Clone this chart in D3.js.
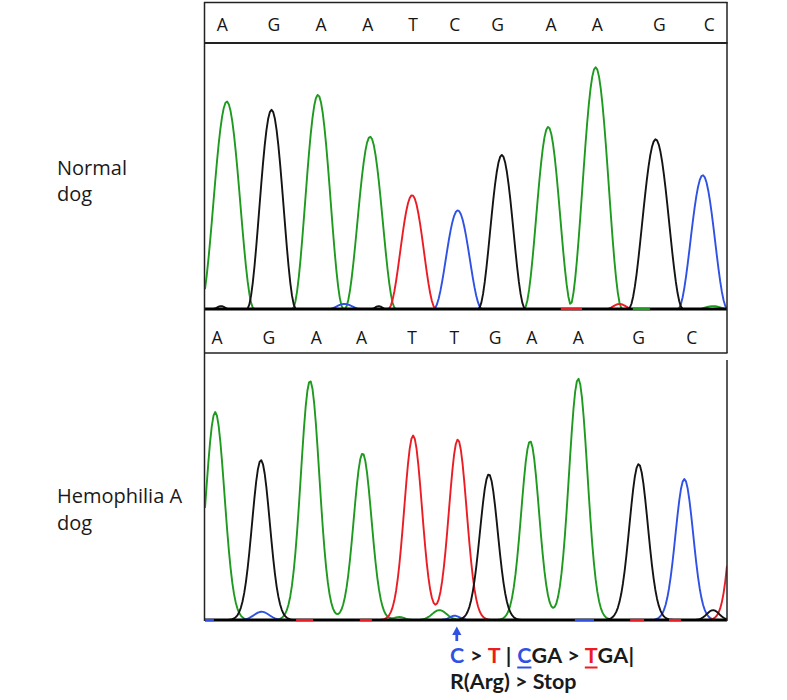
<!DOCTYPE html>
<html>
<head>
<meta charset="utf-8">
<script src="https://cdn.jsdelivr.net/npm/d3@7"></script>
<style>
  html, body { margin: 0; padding: 0; background: #fff; }
  svg { display: block; }
</style>
</head>
<body>
<svg id="chart" width="787" height="700"></svg>
<script>
// ---------------- DATA ----------------
// scan axis (trace sample index) and signal (relative fluorescence, 0-1000)
const scanDomain = [0, 153];
const signalDomain = [0, 1000];
const baseOrder = ["A", "C", "T", "G"];

// Normal dog
const topCalls = ["A","G","A","A","T","C","G","A","A","G","C"];
const topCallScan = [5.1, 20.2, 34.0, 47.7, 61.0, 73.2, 85.8, 101.4, 115.0, 133.2, 147.8];
const topPeakBase = ["A","G","A","A","T","C","G","A","A","G","C"];
const topPeakScan = [6.4, 19.5, 33.1, 48.4, 60.7, 74.1, 87.0, 100.6, 114.5, 132.1, 145.9];
const topPeakSignal = [780, 749, 805, 648, 428, 371, 579, 685, 909, 638, 503];
const topPeakWidth = [8.0, 7.2, 7.5, 7.5, 7.0, 7.1, 6.9, 7.1, 7.8, 8.0, 7.3];
const topMinorBase = ["G","C","G","T","A"];
const topMinorScan = [4.7, 40.9, 50.9, 121.5, 148.9];
const topMinorSignal = [11, 19, 11, 19, 11];
const topMinorWidth = [2.3, 4.7, 2.1, 3.8, 4.4];
const topBaselineRuns = [[104.3, 110.5, "T"], [125.4, 130.4, "A"]];

// Hemophilia A dog
const bottomCalls = ["A","G","A","A","T","T","G","A","A","G","C"];
const bottomCallScan = [3.5, 18.7, 32.6, 45.9, 60.7, 73.1, 85.0, 95.8, 109.4, 127.1, 142.7];
const bottomPeakBase = ["A","G","A","A","T","T","G","A","A","G","C","T"];
const bottomPeakScan = [3.0, 16.4, 30.8, 46.2, 61.0, 74.1, 83.2, 95.3, 109.4, 127.1, 140.5, 157.4];
const bottomPeakSignal = [779, 599, 896, 624, 691, 676, 546, 670, 904, 584, 528, 816];
const bottomPeakWidth = [2.7, 2.6, 2.7, 2.6, 2.6, 2.6, 2.6, 2.6, 2.7, 2.7, 2.6, 2.64];
const bottomMinorBase = ["C","A","A","C","G"];
const bottomMinorScan = [16.6, 57.0, 68.7, 73.2, 148.9];
const bottomMinorSignal = [31, 11, 37, 16, 37];
const bottomMinorWidth = [2.2, 1.5, 2.1, 1.5, 1.8];
const bottomBaselineRuns = [[0, 2.6, "C"], [26.7, 31.7, "T"], [45.4, 48.9, "T"], [108.4, 114.0, "C"], [124.6, 128.7, "T"], [136.0, 139.5, "T"]];

const mutationScan = 73.8;
const sampleNames = [["Normal", "dog"], ["Hemophilia A", "dog"]];
const noteLine1 = [["C", "C"], [" > ", null], ["T", "T"], [" | ", null], ["C", "C", true], ["GA > ", null], ["T", "T", true], ["GA|", null]];
const noteLine2 = "R(Arg) > Stop";

// ---------------- STYLE / LAYOUT ----------------
const baseColor = { A: "#1e9a1e", C: "#2f52e4", G: "#141414", T: "#ec1c24" };
const L = 205, R = 727;
const svg = d3.select("#chart");
const x = d3.scaleLinear().domain(scanDomain).range([L, R]);

const cosShape = (d, w) => Math.abs(d) < w ? Math.pow(Math.cos(Math.PI * d / (2 * w)), 2) : 0;
const gaussShape = (d, s) => Math.exp(-d * d / (2 * s * s));

const samples = d3.range(scanDomain[0], scanDomain[1] + 0.001, 0.5);

function drawPanel(p) {
  const y = d3.scaleLinear().domain(signalDomain).range([p.base, p.plotTop]);
  const g = svg.append("g");
  const clipId = "clip" + p.id;
  svg.append("clipPath").attr("id", clipId)
    .append("rect").attr("x", L).attr("y", p.plotTop).attr("width", R - L).attr("height", p.base - p.plotTop + 2);

  // base calls
  g.selectAll("text.call").data(p.calls).join("text")
    .attr("class", "call")
    .attr("x", (d, i) => x(p.callScan[i]))
    .attr("y", p.callY)
    .attr("text-anchor", "middle")
    .attr("font-family", "'Open Sans', sans-serif")
    .attr("font-size", 17.5)
    .attr("fill", "#151515")
    .text(d => d);

  // traces
  const traces = baseOrder.map(b => {
    const vals = samples.map(s => {
      let v = 0;
      p.peakBase.forEach((pb, i) => { if (pb === b) v += p.peakSignal[i] * p.shape(s - p.peakScan[i], p.peakWidth[i]); });
      p.minorBase.forEach((mb, i) => { if (mb === b) v += p.minorSignal[i] * p.shape(s - p.minorScan[i], p.minorWidth[i]); });
      return [s, v];
    });
    return { base: b, vals };
  });
  const line = d3.line().x(d => x(d[0])).y(d => y(d[1])).curve(d3.curveLinear);
  g.append("g").attr("clip-path", `url(#${clipId})`)
    .selectAll("path").data(traces).join("path")
    .attr("d", d => line(d.vals))
    .attr("fill", "none")
    .attr("stroke", d => baseColor[d.base])
    .attr("stroke-width", 1.9)
    .attr("stroke-linejoin", "round");

  // baseline
  g.append("line").attr("x1", L).attr("x2", R).attr("y1", p.base).attr("y2", p.base)
    .attr("stroke", "#000").attr("stroke-width", 3);
  g.selectAll("line.run").data(p.runs).join("line")
    .attr("class", "run")
    .attr("x1", d => x(d[0])).attr("x2", d => x(d[1]))
    .attr("y1", p.base).attr("y2", p.base)
    .attr("stroke", d => baseColor[d[2]]).attr("stroke-width", 2.2);
}

drawPanel({
  id: "top", calls: topCalls, callScan: topCallScan, callY: 31,
  plotTop: 43, base: 309, shape: cosShape,
  peakBase: topPeakBase, peakScan: topPeakScan, peakSignal: topPeakSignal, peakWidth: topPeakWidth,
  minorBase: topMinorBase, minorScan: topMinorScan, minorSignal: topMinorSignal, minorWidth: topMinorWidth,
  runs: topBaselineRuns
});
drawPanel({
  id: "bottom", calls: bottomCalls, callScan: bottomCallScan, callY: 344,
  plotTop: 353, base: 620, shape: gaussShape,
  peakBase: bottomPeakBase, peakScan: bottomPeakScan, peakSignal: bottomPeakSignal, peakWidth: bottomPeakWidth,
  minorBase: bottomMinorBase, minorScan: bottomMinorScan, minorSignal: bottomMinorSignal, minorWidth: bottomMinorWidth,
  runs: bottomBaselineRuns
});

// frame lines
const frame = svg.append("g").attr("stroke", "#222").attr("fill", "none");
frame.append("line").attr("x1", 204.5).attr("x2", 204.5).attr("y1", 2).attr("y2", 621).attr("stroke-width", 1.5);
frame.append("line").attr("x1", 727).attr("x2", 727).attr("y1", 2).attr("y2", 353).attr("stroke-width", 1.5);
frame.append("line").attr("x1", 727).attr("x2", 727).attr("y1", 360).attr("y2", 621).attr("stroke-width", 1.5);
frame.append("line").attr("x1", 204).attr("x2", 727.5).attr("y1", 2.5).attr("y2", 2.5).attr("stroke-width", 1.3);
frame.append("line").attr("x1", 204).attr("x2", 727.5).attr("y1", 43).attr("y2", 43).attr("stroke-width", 2);
frame.append("line").attr("x1", 204).attr("x2", 727.5).attr("y1", 353).attr("y2", 353).attr("stroke-width", 1.6);

// sample labels
const labelY = [[175, 201], [503, 530]];
sampleNames.forEach((lines, k) => {
  lines.forEach((t, j) => {
    svg.append("text").attr("x", 57).attr("y", labelY[k][j])
      .attr("font-family", "'Open Sans', sans-serif").attr("font-size", 20)
      .attr("fill", "#1a1a1a").text(t);
  });
});

// mutation arrow
const ax = x(mutationScan);
svg.append("line").attr("x1", ax).attr("x2", ax).attr("y1", 633).attr("y2", 641)
  .attr("stroke", baseColor.C).attr("stroke-width", 2.8);
svg.append("path")
  .attr("d", `M${ax - 4.6},635 L${ax},626.5 L${ax + 4.6},635 Z`)
  .attr("fill", baseColor.C);

// annotation
const t1 = svg.append("text").attr("x", 450).attr("y", 663)
  .attr("font-family", "Lato, 'Open Sans', sans-serif").attr("font-size", 21.5).attr("font-weight", "bold")
  .attr("letter-spacing", 0.3)
  .style("white-space", "pre");
noteLine1.forEach(seg => {
  t1.append("tspan").attr("fill", seg[1] ? baseColor[seg[1]] : "#1a1a1a").text(seg[0]);
});
let idx = 0;
const node = t1.node();
noteLine1.forEach(seg => {
  if (seg[2]) {
    const x0 = node.getStartPositionOfChar(idx).x;
    const x1 = node.getEndPositionOfChar(idx + seg[0].length - 1).x;
    svg.append("line").attr("x1", x0).attr("x2", x1).attr("y1", 667.5).attr("y2", 667.5)
      .attr("stroke", baseColor[seg[1]]).attr("stroke-width", 2);
  }
  idx += seg[0].length;
});
svg.append("text").attr("x", 450).attr("y", 689)
  .attr("font-family", "Lato, 'Open Sans', sans-serif").attr("font-size", 21.5).attr("font-weight", "bold")
  .attr("fill", "#1a1a1a").text(noteLine2);
</script>
</body>
</html>
